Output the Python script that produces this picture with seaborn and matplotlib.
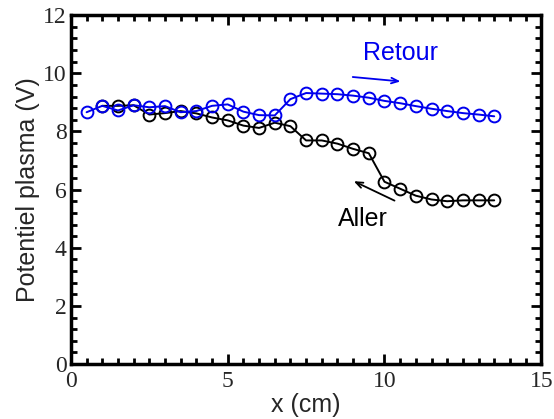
import numpy as np
import pandas as pd
import matplotlib
matplotlib.use('Agg')
import matplotlib.pyplot as plt
import seaborn as sns
from matplotlib.ticker import MultipleLocator

# values
x_retour = [0.5, 1.0, 1.5, 2.0, 2.5, 3.0, 3.5, 4.0, 4.5, 5.0, 5.5, 6.0, 6.5, 7.0,
            7.5, 8.0, 8.5, 9.0, 9.5, 10.0, 10.5, 11.0, 11.5, 12.0, 12.5, 13.0, 13.5]
v_retour = [8.66, 8.88, 8.72, 8.90, 8.83, 8.87, 8.66, 8.70, 8.88, 8.93, 8.68, 8.56, 8.55, 9.11,
            9.32, 9.30, 9.28, 9.23, 9.16, 9.05, 8.97, 8.87, 8.78, 8.70, 8.63, 8.58, 8.52]

x_aller = [1.0, 1.5, 2.0, 2.5, 3.0, 3.5, 4.0, 4.5, 5.0, 5.5, 6.0, 6.5, 7.0,
           7.5, 8.0, 8.5, 9.0, 9.5, 10.0, 10.5, 11.0, 11.5, 12.0, 12.5, 13.0, 13.5]
v_aller = [8.88, 8.88, 8.90, 8.58, 8.63, 8.70, 8.62, 8.48, 8.38, 8.20, 8.12, 8.30, 8.18,
           7.69, 7.69, 7.58, 7.40, 7.25, 6.27, 6.03, 5.79, 5.66, 5.60, 5.63, 5.63, 5.63]

df_aller = pd.DataFrame({'x': x_aller, 'v': v_aller})
df_retour = pd.DataFrame({'x': x_retour, 'v': v_retour})

sns.set_style('white')
fig = plt.figure(figsize=(5.54, 4.19), dpi=100)
ax = fig.add_axes([0.128, 0.131, 0.849, 0.833])

# black: aller
sns.lineplot(data=df_aller, x='x', y='v', ax=ax, color='black', linewidth=1.4,
             marker='o', markersize=8.5, markerfacecolor='none',
             markeredgecolor='black', markeredgewidth=1.4, sort=False)
# blue: retour
sns.lineplot(data=df_retour, x='x', y='v', ax=ax, color='#0000ee', linewidth=1.4,
             marker='o', markersize=8.5, markerfacecolor='none',
             markeredgecolor='#0000ee', markeredgewidth=1.4, sort=False)

ax.set_xlim(0, 15)
ax.set_ylim(0, 12)
ax.xaxis.set_major_locator(MultipleLocator(5))
ax.xaxis.set_minor_locator(MultipleLocator(0.5))
ax.yaxis.set_major_locator(MultipleLocator(2))
ax.yaxis.set_minor_locator(MultipleLocator(0.4))
ax.tick_params(which='both', direction='in', top=True, right=True,
               bottom=True, left=True, width=2, color='black')
ax.tick_params(which='major', length=7, labelsize=17)
ax.tick_params(axis='x', which='major', pad=5)
ax.tick_params(axis='y', which='major', pad=3)
ax.tick_params(which='minor', length=4)
for lab in ax.get_xticklabels() + ax.get_yticklabels():
    lab.set_fontfamily('Liberation Serif')
for sp in ax.spines.values():
    sp.set_linewidth(2.5)
    sp.set_color('black')

ax.set_xlabel('x (cm)', fontsize=18, family='Liberation Sans', labelpad=1)
ax.set_ylabel('Potentiel plasma (V)', fontsize=18, family='Liberation Sans', labelpad=2)

ax.text(10.5, 10.7, 'Retour', color='#0000ee', fontsize=18, family='Liberation Sans',
        ha='center', va='center')
ax.annotate('', xy=(10.6, 9.71), xytext=(8.9, 9.88),
            arrowprops=dict(arrowstyle='->,head_length=0.5,head_width=0.2',
                            color='#0000ee', lw=1.3))
ax.text(9.32, 4.99, 'Aller', color='black', fontsize=18, family='Liberation Sans',
        ha='center', va='center')
ax.annotate('', xy=(8.94, 6.33), xytext=(10.4, 5.58),
            arrowprops=dict(arrowstyle='->,head_length=0.5,head_width=0.2',
                            color='black', lw=1.3))

fig.savefig('out.png', dpi=100)
